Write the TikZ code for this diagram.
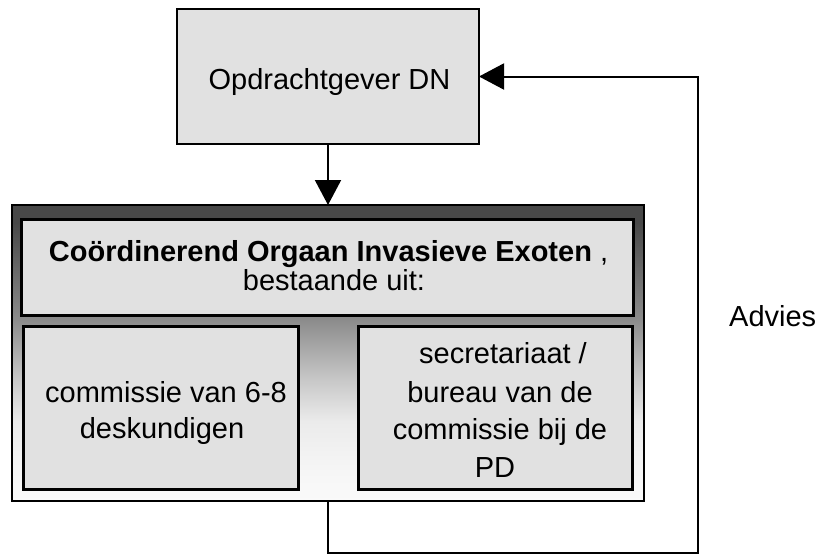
\documentclass[tikz,border=0pt]{standalone}
\usepackage{fontspec}
\setmainfont{Liberation Sans}
\usetikzlibrary{arrows.meta}
\definecolor{boxfill}{HTML}{E1E1E1}
\definecolor{gzero}{HTML}{FAFAFA}
\definecolor{gone}{HTML}{F6F6F6}
\definecolor{gtwo}{HTML}{EBEBEB}
\definecolor{gthree}{HTML}{C5C5C5}
\definecolor{gfour}{HTML}{8C8C8C}
\definecolor{gfive}{HTML}{484848}
\pgfdeclareverticalshading{outershade}{100bp}{color(0bp)=(gzero); color(25bp)=(gzero); color(30bp)=(gone); color(38.5bp)=(gtwo); color(46bp)=(gthree); color(55.5bp)=(gfour); color(72bp)=(gfive); color(100bp)=(gfive)}
\begin{document}
\begin{tikzpicture}[x=1pt,y=-1pt,
  box/.style={draw=black, fill=boxfill, line width=3pt, inner sep=0pt, outer sep=0pt},
  outerbox/.style={draw=black, line width=2pt, shading=outershade, inner sep=0pt, outer sep=0pt},
  txt/.style={anchor=base, inner sep=0pt, font=\fontsize{29}{29}\selectfont},
  conn/.style={line width=2pt},
  tip/.style={-{Triangle[length=25pt,width=26pt]}}]
\useasboundingbox (0,0) rectangle (821,554);
% boxes
\node[box, line width=2.5pt, minimum width=302pt, minimum height=135pt] (top) at (328,76.5) {};
\node[outerbox, minimum width=632pt, minimum height=296pt] (outer) at (328,353) {};
\node[box, minimum width=612pt, minimum height=96pt] (header) at (327,267) {};
\node[box, minimum width=275pt, minimum height=163pt] (left) at (160.5,407.5) {};
\node[box, minimum width=274pt, minimum height=163pt] (right) at (495,407.5) {};
% texts
\node[txt] (ttop) at (329.5,89) {Opdrachtgever DN};
\node[txt] (hone) at (328.5,261) {\textbf{Coördinerend Orgaan Invasieve Exoten} ,};
\node[txt] (htwo) at (334,290) {bestaande uit:};
\node[txt] (lone) at (166,402) {commissie van 6-8};
\node[txt] (ltwo) at (162,438) {deskundigen};
\node[txt] (rone) at (503,363) {secretariaat /};
\node[txt] (rtwo) at (500,402) {bureau van de};
\node[txt] (rthree) at (500,439) {commissie bij de};
\node[txt] (rfour) at (495,477) {PD};
\node[txt, anchor=base west] (advies) at (729,326) {Advies};
% connectors
\coordinate (cone) at (328,553);
\coordinate (ctwo) at (698,553);
\draw[conn, tip] (top.south) -- (outer.north);
\draw[conn, tip] (outer.south) -- (cone) -- (ctwo) |- (top.east);
\end{tikzpicture}
\end{document}
